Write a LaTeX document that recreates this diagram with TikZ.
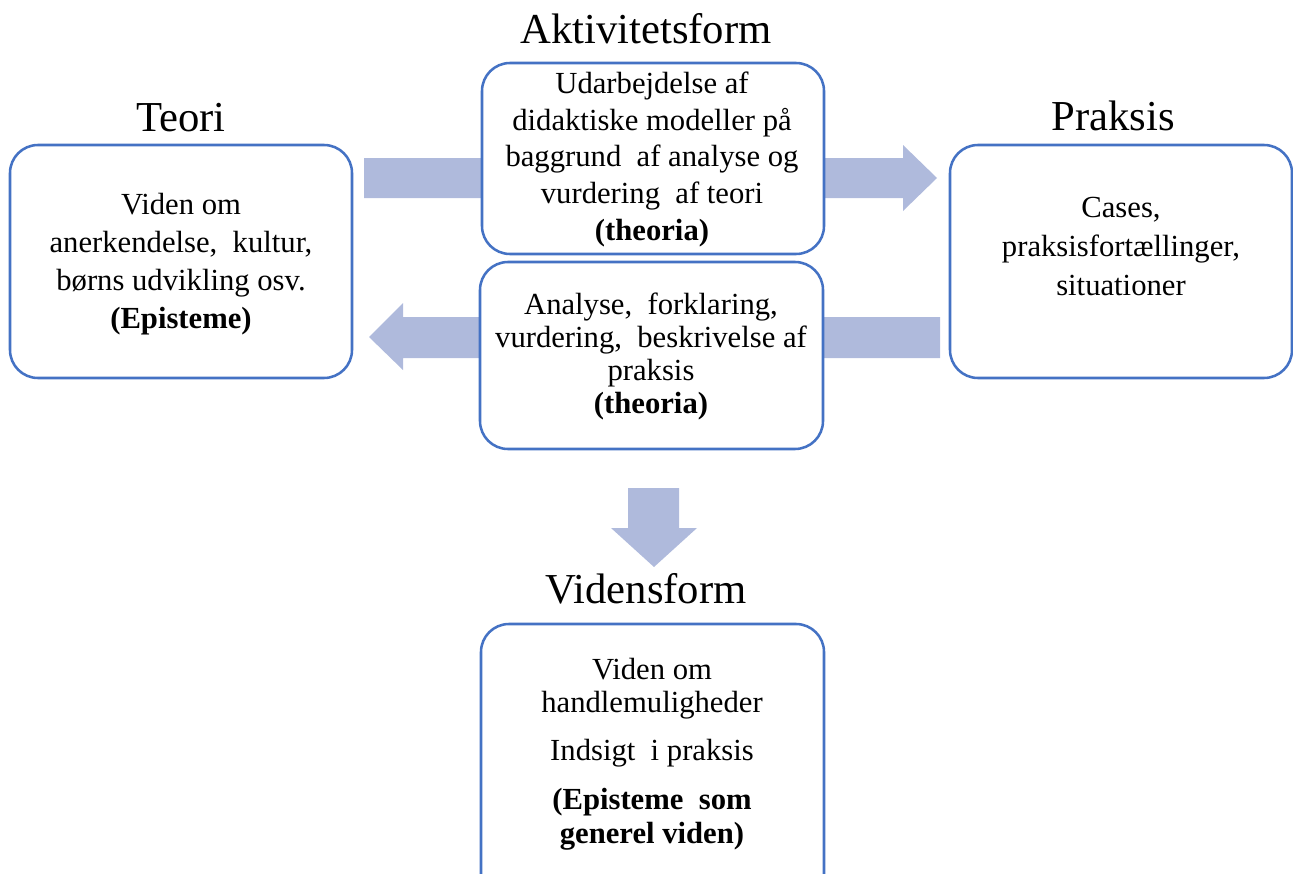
\documentclass[tikz,border=0pt]{standalone}
\usepackage{fontspec}
\setmainfont{Liberation Serif}
\definecolor{boxblue}{HTML}{4472C4}
\definecolor{arrowblue}{HTML}{AFBADC}
\begin{document}
\begin{tikzpicture}[x=0.75pt,y=-0.75pt,
  box/.style={draw=boxblue,line width=1.9pt,rounded corners=21pt,fill=white},
  arr/.style={fill=arrowblue,draw=none},
  title/.style={anchor=base,font=\fontsize{32}{38}\selectfont,inner sep=0pt},
  txt/.style={anchor=base,align=center,inner sep=0pt}]
\useasboundingbox (0,0) rectangle (1293,874);
% arrows (behind the boxes)
\draw[arr] (364,158) -- (903,158) -- (903,145) -- (937,178) -- (903,211) -- (903,198) -- (364,198) -- cycle;
\draw[arr] (940,317) -- (403,317) -- (403,303) -- (369,337) -- (403,370) -- (403,358) -- (940,358) -- cycle;
\draw[arr] (628,488) -- (679,488) -- (679,528) -- (697,528) -- (654,567) -- (611,528) -- (628,528) -- cycle;
% boxes
\draw[box] (10,145) rectangle (352,378);
\draw[box] (950,145) rectangle (1292,378);
\draw[box] (482,63) rectangle (824,254);
\draw[box] (480,262) rectangle (823,449);
\draw[box] (481,624) rectangle (824,905);
% titles
\node[title] (teori) at (181,132) {Teori};
\node[title] (praksis) at (1113,131) {Praksis};
\node[title] (aktiv) at (646,44) {Aktivitetsform};
\node[title] (videns) at (646,603) {Vidensform};
% texts (anchored at the baseline of the last line)
\node[txt,font=\fontsize{23}{28.5}\selectfont] (teoritxt) at (181,328)
  {Viden om\\anerkendelse,~ kultur,\\børns udvikling osv.\\\textbf{(Episteme)}};
\node[txt,font=\fontsize{23}{29}\selectfont] (praksistxt) at (1121,295)
  {Cases,\\praksisfortællinger,\\situationer};
\node[txt,font=\fontsize{23}{27.4}\selectfont] (toptxt) at (652,240)
  {Udarbejdelse af\\didaktiske modeller på\\baggrund~ af analyse og\\vurdering~ af teori\\\textbf{(theoria)}};
\node[txt,font=\fontsize{23}{24.75}\selectfont] (midtxt) at (651,413)
  {Analyse,~ forklaring,\\vurdering,~ beskrivelse af\\praksis\\\textbf{(theoria)}};
\node[txt,font=\fontsize{23}{25}\selectfont] (bottxt) at (652,843)
  {Viden om\\handlemuligheder\\[11pt]Indsigt~ i praksis\\[12pt]\textbf{(Episteme~ som}\\\textbf{generel viden)}};
\end{tikzpicture}
\end{document}
